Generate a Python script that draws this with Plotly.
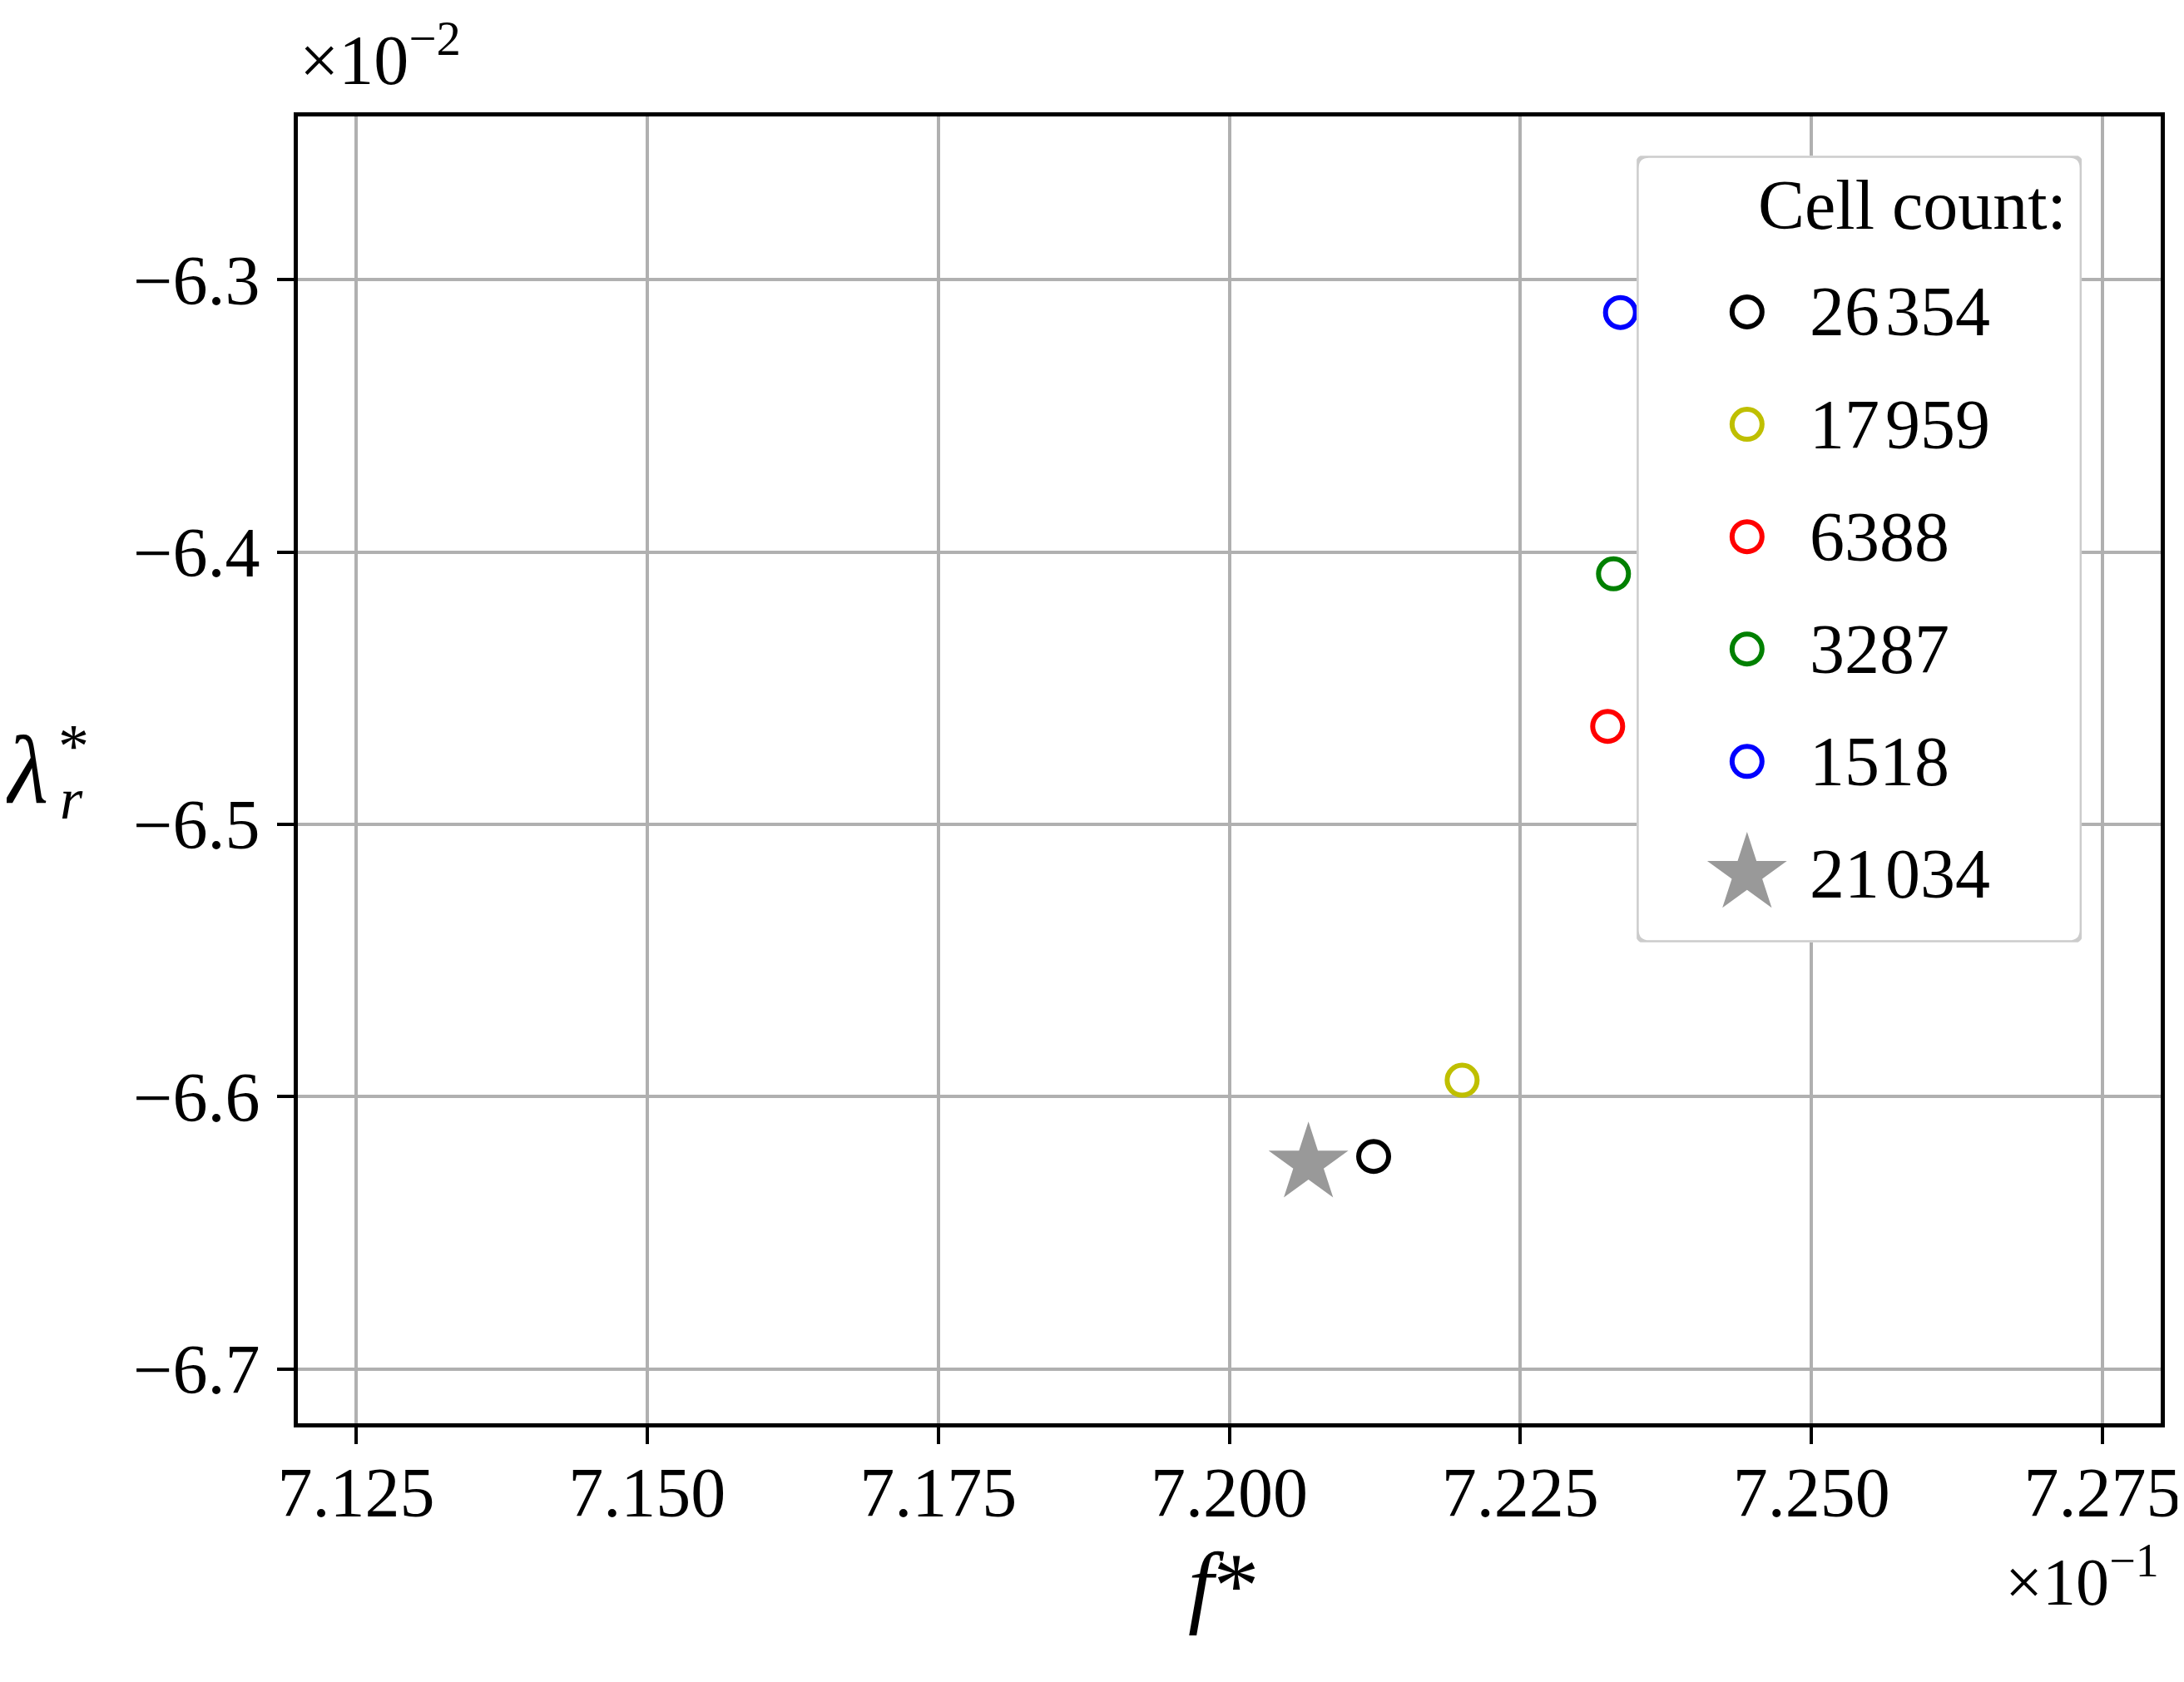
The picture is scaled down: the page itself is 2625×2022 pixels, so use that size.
import plotly.graph_objects as go

# values shown in the plot units (f* x10^-1, lambda_r* x10^-2)
cell_counts = ["26\u200a354", "17\u200a959", "6388", "3287", "1518"]
f_star = [7.2124, 7.2200, 7.2325, 7.2330, 7.2336]
lambda_r = [-6.622, -6.594, -6.464, -6.408, -6.312]
colors = ["#000000", "#bfbf00", "#ff0000", "#008000", "#0000ff"]

ref_count = "21\u200a034"
ref_f = [7.2068]
ref_lambda = [-6.6246]
ref_color = "#999999"

x_ticks = [7.125, 7.150, 7.175, 7.200, 7.225, 7.250, 7.275]
y_ticks = [-6.3, -6.4, -6.5, -6.6, -6.7]

FONT = "Liberation Serif"
CIRCLE = dict(symbol="circle-open", size=36)
STAR = dict(symbol="star", size=72)

fig = go.Figure()

for i in range(len(cell_counts)):
    fig.add_trace(go.Scatter(
        x=[f_star[i]], y=[lambda_r[i]], mode="markers", name=cell_counts[i],
        marker=dict(color=colors[i], line=dict(width=6, color=colors[i]), **CIRCLE),
    ))

fig.add_trace(go.Scatter(
    x=ref_f, y=ref_lambda, mode="markers", name=ref_count,
    marker=dict(color=ref_color, line=dict(width=0), **STAR),
))

# legend drawn in its own small axes so the markers keep their plot size
labels = cell_counts + [ref_count]
rows = list(range(len(labels)))
for i in rows[:-1]:
    fig.add_trace(go.Scatter(
        x=[0.248], y=[i], mode="markers", xaxis="x2", yaxis="y2",
        marker=dict(color=colors[i], line=dict(width=6, color=colors[i]), **CIRCLE),
        hoverinfo="skip",
    ))
fig.add_trace(go.Scatter(
    x=[0.248], y=[rows[-1]], mode="markers", xaxis="x2", yaxis="y2",
    marker=dict(color=ref_color, line=dict(width=0), **STAR),
    hoverinfo="skip",
))
for i, lab in zip(rows, labels):
    fig.add_annotation(text=lab, xref="x2", yref="y2", x=0.385, y=i,
                       xanchor="left", yanchor="middle", showarrow=False,
                       font=dict(family=FONT, size=84, color="black"))
fig.add_annotation(text="Cell count:", xref="x2", yref="y2", x=0.97, y=-0.95,
                   xanchor="right", yanchor="middle", showarrow=False,
                   font=dict(family=FONT, size=84, color="black"))

# rounded legend frame
rx, ry = 0.028, 0.11
x0, x1, y0, y1 = 0.0, 1.0, -1.39, 5.61
path = (f"M {x0+rx},{y0} L {x1-rx},{y0} Q {x1},{y0} {x1},{y0+ry} "
        f"L {x1},{y1-ry} Q {x1},{y1} {x1-rx},{y1} L {x0+rx},{y1} "
        f"Q {x0},{y1} {x0},{y1-ry} L {x0},{y0+ry} Q {x0},{y0} {x0+rx},{y0} Z")
fig.add_shape(type="path", path=path, xref="x2", yref="y2", layer="between",
              fillcolor="rgba(255,255,255,0.8)", line=dict(color="#cccccc", width=5))

axis_common = dict(
    showgrid=True, gridcolor="#b0b0b0", gridwidth=3.5,
    showline=True, linecolor="black", linewidth=4.5, mirror=True,
    ticks="outside", ticklen=20, tickwidth=3.5, tickcolor="black",
    zeroline=False,
    tickfont=dict(family=FONT, size=84, color="black"),
)

fig.update_layout(
    xaxis=dict(range=[7.12, 7.28], tickvals=x_ticks, tickformat=".3f",
               ticklabelstandoff=-14, **axis_common),
    yaxis=dict(range=[-6.72, -6.24], tickvals=y_ticks, tickformat=".1f",
               ticklabelstandoff=4, **axis_common),
    xaxis2=dict(domain=[0.7187, 0.9576], range=[0, 1], anchor="y2", visible=False,
                fixedrange=True),
    yaxis2=dict(domain=[0.368, 0.970], range=[5.61, -1.39], anchor="x2", visible=False,
                fixedrange=True),
)

fig.add_annotation(text="<i>f</i>*", xref="paper", yref="paper",
                   x=0.497, y=-0.084, xanchor="center", yanchor="top",
                   showarrow=False, font=dict(family=FONT, size=110, color="black"))
fig.add_annotation(text="<i>λ</i>", xref="paper", yref="paper",
                   x=0, y=0.5, xshift=-355, xanchor="left", yanchor="middle",
                   showarrow=False, font=dict(family=FONT, size=116, color="black"))
fig.add_annotation(text="*", xref="paper", yref="paper",
                   x=0, y=0.518, xshift=-270, xanchor="center", yanchor="middle",
                   showarrow=False, font=dict(family=FONT, size=74, color="black"))
fig.add_annotation(text="<i>r</i>", xref="paper", yref="paper",
                   x=0, y=0.478, xshift=-272, xanchor="center", yanchor="middle",
                   showarrow=False, font=dict(family=FONT, size=70, color="black"))
fig.add_annotation(text="×10<sup>−2</sup>", xref="paper", yref="paper",
                   x=0.0, y=1.012, xanchor="left", yanchor="bottom",
                   showarrow=False, font=dict(family=FONT, size=84, color="black"))
fig.add_annotation(text="×10<sup>−1</sup>", xref="paper", yref="paper",
                   x=1.0, y=-0.084, xanchor="right", yanchor="top",
                   showarrow=False, font=dict(family=FONT, size=80, color="black"))

fig.update_layout(
    width=2625, height=2022,
    margin=dict(l=350, r=32, t=132, b=319),
    plot_bgcolor="white", paper_bgcolor="white",
    showlegend=False,
)

fig.write_html("out.html")
